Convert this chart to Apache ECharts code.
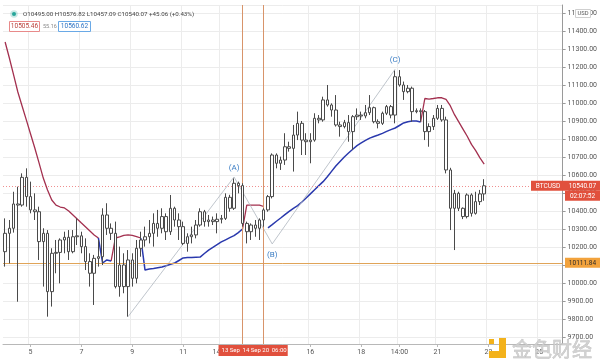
<!DOCTYPE html>
<html><head><meta charset="utf-8">
<script src="https://cdn.jsdelivr.net/npm/echarts@6/dist/echarts.min.js"></script>
<style>html,body{margin:0;padding:0;background:#fff}#c{width:600px;height:362px}</style>
</head><body><div id="c"></div>
<script>
// ---- data (4h candles, BTCUSD, starting 4 Sep 02:00) ----
const opens = [10174,10276,10304,10439,10433,10587,10480,10406,10396,10230,10276,9952,10165,10170,10239,10254,10174,10257,10262,10202,
10119,10054,10137,10146,10378,10304,10276,9980,10100,9980,10128,10026,10193,10239,10257,10276,10331,10304,10369,10285,
10415,10350,10313,10220,10257,10267,10322,10396,10341,10350,10341,10354,10359,10476,10415,10554,10541,10331,10285,10322,
10304,10350,10406,10480,10711,10665,10683,10757,10748,10822,10887,10794,10785,10794,10915,10906,11017,10989,10961,10878,
10869,10891,10841,10924,10933,10928,10946,10974,10896,10887,10943,10980,10933,11146,11100,11063,11082,10952,10957,10952,
10841,10869,10915,10970,10906,10628,10415,10498,10415,10369,10489,10387,10452,10495];
const highs = [10359,10350,10507,10535,10609,10637,10563,10498,10424,10304,10294,10193,10239,10248,10285,10294,10294,10359,10285,10248,
10165,10156,10239,10415,10443,10331,10341,10202,10165,10183,10165,10239,10285,10313,10350,10387,10406,10415,10387,10489,
10424,10387,10341,10276,10313,10350,10415,10406,10378,10369,10387,10378,10498,10490,10581,10563,10554,10341,10331,10350,
10359,10415,10489,10720,10720,10702,10832,10785,10878,10952,10900,10832,10832,10943,10933,11035,11100,10998,11044,10896,
10906,10933,10933,10970,10952,10989,11044,10980,10909,10952,10989,10989,11180,11183,11119,11100,11091,10970,10970,10961,
10887,10933,10989,10989,10924,10640,10517,10507,10420,10498,10498,10507,10517,10576.82];
const lows = [10091,10109,10280,9896,10424,10424,10387,10350,10128,9980,9813,9869,10054,9998,10165,10128,10165,10211,10165,10072,
9980,9878,10091,10100,10267,10239,9970,9924,9943,9813,9980,9998,10146,10202,10220,10202,10257,10276,10239,10267,
10313,10239,10211,10174,10220,10248,10313,10313,10313,10322,10276,10331,10350,10396,10406,10498,10313,10220,10239,10257,
10239,10313,10396,10470,10637,10628,10656,10730,10619,10794,10711,10711,10665,10785,10887,10896,10980,10924,10869,10813,
10859,10785,10739,10906,10906,10915,10933,10887,10859,10878,10933,10915,10887,11091,11017,11054,10896,10943,10896,10794,
10757,10850,10906,10896,10609,10294,10183,10400,10355,10359,10369,10380,10433,10457.09];
const closes = [10276,10304,10439,10433,10587,10480,10406,10396,10230,10276,9952,10165,10170,10239,10254,10174,10257,10262,10202,10119,
10054,10137,10146,10378,10304,10276,9980,10100,9980,10128,10026,10193,10239,10257,10276,10331,10304,10369,10285,10415,
10350,10313,10220,10257,10267,10322,10396,10341,10350,10341,10354,10359,10476,10415,10554,10541,10331,10285,10322,10304,
10350,10406,10480,10711,10665,10683,10757,10748,10822,10887,10794,10785,10794,10915,10906,11017,10989,10961,10878,10869,
10891,10841,10924,10933,10928,10946,10974,10896,10887,10943,10980,10933,11146,11100,11063,11082,10952,10957,10952,10841,
10869,10915,10970,10906,10628,10415,10498,10415,10369,10489,10387,10452,10495,10540.07];
const _ = null;
const redLine = [11339,11250,11156,11061,10983,10906,10828,10750,10667,10583,10517,10461,10433,10422,10417,10400,10378,10356,10333,10311,
10289,10267,10250,_,_,10122,10250,10256,10264,10267,10264,10258,10250,_,_,_,_,_,_,_,
_,_,_,_,_,_,_,_,_,_,_,_,_,_,_,_,10300,10433,10433,10433,
10433,10425,_,_,_,_,_,_,_,_,_,_,_,_,_,_,_,_,_,_,
_,_,_,_,_,_,_,_,_,_,_,_,_,_,_,_,_,_,10894,11025,
11022,11025,11029,11029,11020,10985,10935,10895,10855,10815,10770,10735,10695,10661];
const blueLine = [_,_,_,_,_,_,_,_,_,_,_,_,_,_,_,_,_,_,_,_,
_,_,10250,10111,10128,10122,_,_,_,_,_,_,10250,10072,10078,10081,10085,10089,10096,10104,
10111,10125,10139,10141,10142,10143,10144,10164,10183,10198,10213,10228,10240,10252,10263,10280,10300,_,_,_,
_,_,10306,10324,10343,10361,10380,10398,10415,10430,10450,10472,10495,10518,10541,10563,10590,10620,10650,10675,
10700,10722,10743,10763,10778,10792,10805,10814,10822,10831,10842,10852,10861,10875,10889,10896,10900,10900,10894];
const waveIdx = [29,54,63,92];
const waveVal = [9813,10589,10217,11188];
const waveLbl = ['', '(A)', '(B)', '(C)'];
const tickIdx = [6,18,30,42,51,72,84,93,102,114,126];
const tickTxt = ['5','7','9','11','14:00','16','18','14:00','21','23','25'];
const vLineIdx = [56, 61];
const lastPrice = 10540.07;
const levelPrice = 10111.84;
const slotCount = 132;
const legendText = 'O10495.00 H10576.82 L10457.09 C10540.07 +45.06 (+0.43%)';

// categories: 4h slots
const categories = [];
const t0 = Date.UTC(2020, 8, 4, 2, 0);
for (let k = 0; k < slotCount; k++) {
  const d = new Date(t0 + k * 4 * 3600 * 1000);
  categories.push((d.getUTCMonth()+1) + '-' + d.getUTCDate() + ' ' + String(d.getUTCHours()).padStart(2,'0') + ':00');
}
const labelMap = {};
tickIdx.forEach((k, i) => labelMap[k] = tickTxt[i]);
const candleData = opens.map((o, i) => [o, closes[i], lows[i], highs[i]]);
const F = 'Roboto';
const waveData = waveIdx.map((k, i) => [k, waveVal[i]]);

const chart = echarts.init(document.getElementById('c'), null, { renderer: 'canvas' });
chart.setOption({
  animation: false,
  backgroundColor: '#fff',
  grid: { left: 3, right: 35, top: 5, bottom: 18 },
  xAxis: {
    type: 'category', data: categories, boundaryGap: true,
    axisLine: { show: true, lineStyle: { color: '#b8b8b8' } },
    axisTick: { show: true, length: 3, alignWithLabel: true, interval: (i) => labelMap[i] !== undefined, lineStyle: { color: '#b8b8b8' } },
    axisLabel: { interval: (i) => labelMap[i] !== undefined, formatter: (v, i) => labelMap[i] || '', fontSize: 7, color: '#555', fontFamily: F, margin: 5 },
    splitLine: { show: true, interval: (i) => labelMap[i] !== undefined, lineStyle: { color: '#ececec' } }
  },
  yAxis: {
    type: 'value', position: 'right', min: 9661.1, max: 11544.4, splitNumber: 19, minInterval: 100, maxInterval: 100,
    scale: true,
    axisLine: { show: true, lineStyle: { color: '#9a9a9a' } },
    axisTick: { show: true, length: 3, lineStyle: { color: '#9a9a9a' } },
    axisLabel: { fontSize: 7, color: '#555', fontFamily: F, margin: 5, showMinLabel: false, showMaxLabel: false, formatter: (v) => v.toFixed(2) },
    splitLine: { show: true, lineStyle: { color: '#ececec' } }
  },
  series: [
    { type: 'line', data: redLine, showSymbol: false, symbol: 'none', connectNulls: false, lineStyle: { color: '#a3304f', width: 1.3 }, z: 2 },
    { type: 'line', data: blueLine, showSymbol: false, symbol: 'none', connectNulls: false, lineStyle: { color: '#2a39ad', width: 1.5 }, z: 2 },
    { type: 'line', data: waveData, symbol: 'none', showSymbol: false, lineStyle: { color: '#aeb6bf', width: 0.8 }, z: 3 },
    { type: 'candlestick', data: candleData, barWidth: 3, z: 5,
      itemStyle: { color: '#ffffff', color0: '#ffffff', borderColor: '#4a4a4a', borderColor0: '#4a4a4a', borderWidth: 1 },
      markLine: {
        silent: true, symbol: ['none', 'none'], label: { show: false }, animation: false,
        data: [
          { yAxis: lastPrice, lineStyle: { color: '#ef8f8f', type: [1, 2], width: 1 } },
          { yAxis: levelPrice, lineStyle: { color: '#e0a458', type: 'solid', width: 1 } },
          { xAxis: vLineIdx[0], lineStyle: { color: '#d8946a', type: 'solid', width: 1 } },
          { xAxis: vLineIdx[1], lineStyle: { color: '#d8946a', type: 'solid', width: 1 } }
        ]
      }
    }
  ]
});

// overlays positioned through the chart's scales
const yLast = chart.convertToPixel({ yAxisIndex: 0 }, lastPrice);
const yLevel = chart.convertToPixel({ yAxisIndex: 0 }, levelPrice);
const xV1 = chart.convertToPixel({ xAxisIndex: 0 }, vLineIdx[0]);
const xV2 = chart.convertToPixel({ xAxisIndex: 0 }, vLineIdx[1]);
const RED = '#e1503d';
const tx = (x, y, text, o) => Object.assign({ type: 'text', x, y, z: 100, style: Object.assign({ text, fontSize: 6.5, fontFamily: F, fill: '#fff', verticalAlign: 'middle' }, o || {}) });
const box = (x, y, w, h, fill, stroke) => ({ type: 'rect', z: 99, shape: { x, y, width: w, height: h }, style: { fill, stroke: stroke || null, lineWidth: 1 } });
const waveTexts = [];
waveIdx.forEach((k, i) => {
  if (!waveLbl[i]) return;
  const p = chart.convertToPixel({ gridIndex: 0 }, [k, waveVal[i]]);
  const dy = waveLbl[i] === '(B)' ? 11 : -9;
  waveTexts.push(tx(p[0], p[1] + dy, waveLbl[i], { fill: '#3b7dc4', fontSize: 8, align: 'center' }));
});
chart.setOption({
  graphic: waveTexts.concat([
    // legend
    { type: 'circle', z: 100, shape: { cx: 14, cy: 14, r: 3.8 }, style: { fill: 'rgba(38,166,154,0.25)' } },
    { type: 'circle', z: 100, shape: { cx: 14, cy: 14, r: 2 }, style: { fill: '#26a69a' } },
    tx(23, 14, legendText, { fill: '#444', fontSize: 6.2 }),
    box(9.5, 21.5, 30, 10, '#fff', '#e88a8a'),
    tx(24.5, 26.8, '10505.46', { fill: '#b9403a', align: 'center' }),
    tx(43, 26.8, '55.16', { fill: '#888', fontSize: 5.5 }),
    box(58.5, 21.5, 32, 10, '#fff', '#6aa9e6'),
    tx(74.5, 26.8, '10560.62', { fill: '#2f74c4', align: 'center' }),
    // USD badge
    box(575.5, 9.5, 15, 8, '#fff', '#cfcfcf'),
    tx(583, 13.8, 'USD', { fill: '#555', fontSize: 5.8, align: 'center' }),
    // last price labels
    box(531, yLast - 5, 34, 10, RED),
    tx(548, yLast + 0.3, 'BTCUSD', { align: 'center' }),
    box(565, yLast - 5, 35, 10, RED),
    tx(582.5, yLast + 0.3, '10540.07', { align: 'center' }),
    box(565, yLast + 5, 35, 10, RED),
    tx(582.5, yLast + 10.3, '02:07:52', { align: 'center' }),
    // level label
    box(565, yLevel - 5, 35, 10, '#f2a23c'),
    tx(582.5, yLevel + 0.3, '10111.84', { align: 'center', fill: '#2b2b2b' }),
    // time labels of vertical lines
    box(xV1 - 24, 345, xV2 - xV1 + 48, 11, RED),
    tx(xV1 - 21, 350.8, '13 Sep', { fontSize: 6 }),
    tx(xV1, 350.8, '14 Sep 20', { fontSize: 6 }),
    tx(xV2 + 8, 350.8, '06:00', { fontSize: 6 }),
    // watermark
    { type: 'rect', z: 98, shape: { x: 489, y: 339, width: 5, height: 5 }, style: { fill: '#f3b21b' } },
    { type: 'rect', z: 98, shape: { x: 499, y: 338, width: 7, height: 20 }, style: { fill: '#f3b21b' } },
    { type: 'rect', z: 98, shape: { x: 489, y: 351, width: 17, height: 7 }, style: { fill: '#f3b21b' } },
    { type: 'text', z: 98, x: 512, y: 349, style: { text: '金色财经', fontSize: 20, fontFamily: 'Noto Sans CJK SC', fill: 'rgba(205,205,205,0.9)', stroke: '#b8b8b8', lineWidth: 0.5, verticalAlign: 'middle' } }
  ])
});
</script></body></html>
